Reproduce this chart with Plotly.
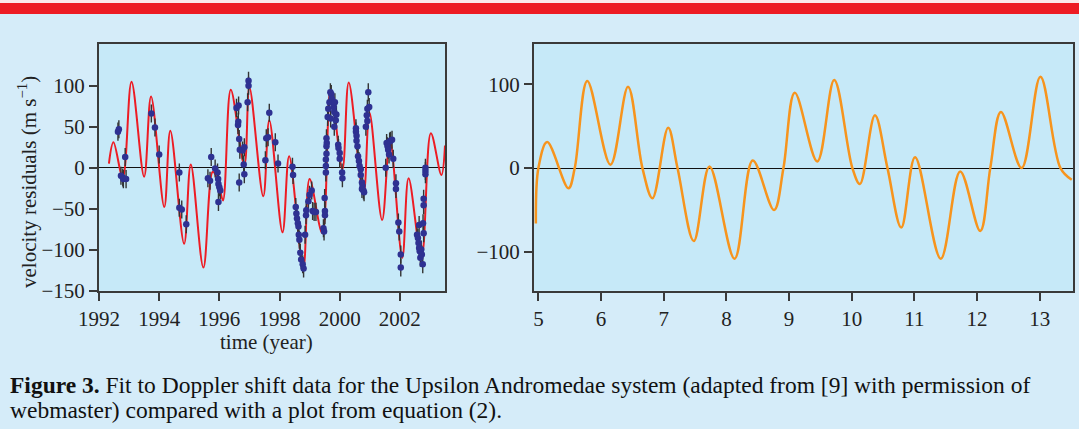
import plotly.graph_objects as go

# ---------------- data ----------------
fit_year = [1992.33, 1992.48, 1992.79, 1993.08, 1993.50, 1993.73, 1994.17, 1994.37,
            1994.83, 1995.05, 1995.47, 1995.78, 1995.95, 1996.12, 1996.38, 1996.83,
            1997.00, 1997.46, 1997.66, 1998.10, 1998.32, 1998.79, 1999.00, 1999.42,
            1999.70, 2000.09, 2000.30, 2000.79, 2000.99, 2001.41, 2001.67, 2002.08,
            2002.29, 2002.72, 2003.03, 2003.38, 2003.50]
fit_v = [5, 31, -12, 105, -11, 87, -48, 45,
         -93, 4, -122, -5, -15, -40, 95, 3,
         98, -35, 58, -79, 14, -122, -14, -80,
         95, -2, 104, -33, 67, -64, 34, -110,
         -13, -109, 42, -9, 27]

obs_year = [1992.63, 1992.66, 1992.73, 1992.79, 1992.81, 1992.90, 1992.87, 1993.74, 1993.86, 1994.00,
            1994.67, 1994.67, 1994.75, 1994.90, 1995.62, 1995.69, 1995.73, 1995.86, 1995.94, 1995.96,
            1995.97, 1996.00, 1996.03, 1995.97, 1996.57, 1996.64, 1996.62, 1996.63, 1996.66, 1996.66,
            1996.68, 1996.77, 1996.83, 1996.81, 1996.83, 1996.94, 1996.97, 1996.97, 1997.53, 1997.56,
            1997.62, 1997.66, 1997.86, 1997.95, 1998.43, 1998.45, 1998.54, 1998.56, 1998.58, 1998.61,
            1998.63, 1998.64, 1998.66, 1998.69, 1998.72, 1998.77, 1998.80, 1998.85, 1998.88, 1998.89,
            1998.96, 1999.00, 1999.07, 1999.10, 1999.15, 1999.21, 1999.46, 1999.48, 1999.51, 1999.51,
            1999.50, 1999.54, 1999.54, 1999.54, 1999.56, 1999.56, 1999.57, 1999.56, 1999.60, 1999.62,
            1999.66, 1999.69, 1999.72, 1999.74, 1999.76, 1999.80, 1999.82, 1999.84, 1999.87, 1999.89,
            1999.70, 1999.82, 1999.95, 1999.96, 2000.00, 2000.00, 2000.08, 2000.09, 2000.54, 2000.54,
            2000.56, 2000.56, 2000.59, 2000.61, 2000.64, 2000.66, 2000.70, 2000.70, 2000.74, 2000.76,
            2000.79, 2000.74, 2000.81, 2000.87, 2000.90, 2000.92, 2000.95, 2000.92, 2000.98, 2001.53,
            2001.56, 2001.59, 2001.61, 2001.64, 2001.66, 2001.69, 2001.74, 2001.78, 2001.87, 2001.87,
            2001.95, 2001.98, 2002.03, 2002.03, 2002.57, 2002.60, 2002.62, 2002.64, 2002.66, 2002.68,
            2002.64, 2002.71, 2002.73, 2002.76, 2002.77, 2002.79, 2002.79, 2002.79, 2002.85, 2002.85,
            2002.85]
obs_v = [44, 47, -10, -12, -14, -14, 13, 66, 49, 16,
         -6, -49, -51, -69, -13, -16, 13, -1, -6, -14,
         -20, -24, -28, -42, 73, 76, 52, 56, 35, -18,
         22, 21, 25, 4, -8, 80, 100, 106, 9, 36,
         37, 67, 31, 5, 1, -9, -48, -56, -62, -68,
         -72, -82, -88, -104, -112, -118, -123, -82, -58, -52,
         -41, -33, -28, -53, -54, -54, -74, -78, -58, -53,
         -37, -6, 2, 10, 17, 26, 30, 36, 62, 72,
         80, 92, 90, 84, 80, 74, 68, 80, 58, 65,
         60, 50, 28, 24, 18, 11, -6, -13, 48, 44,
         39, 33, 26, 14, 8, 2, -2, -9, -18, -22,
         -28, -26, -30, 50, 64, 72, 92, 57, 74, 0,
         30, 26, 22, 16, 32, 33, 34, 11, -19, -26,
         -67, -78, -106, -122, -82, -86, -92, -98, -102, -110,
         -70, -100, -106, -118, -68, -80, -46, -38, 0, -4,
         -8]
obs_err = 11

eq_t = [4.96, 5.00, 5.14, 5.48, 5.58, 5.78, 6.15, 6.43, 6.66, 6.82,
        7.07, 7.22, 7.48, 7.73, 8.13, 8.42, 8.76, 8.91, 9.09, 9.45,
        9.72, 10.01, 10.13, 10.37, 10.57, 10.79, 11.01, 11.42, 11.73, 12.05,
        12.21, 12.38, 12.71, 13.01, 13.33, 13.51]
eq_v = [-66, 0, 31, -24, 0, 104, 4, 97, 0, -36,
        48, 0, -87, 2, -108, 9, -50, 0, 90, 8,
        105, 0, -19, 63, 0, -71, 13, -108, -4, -75,
        0, 67, 0, 109, 0, -14]

left_xticks = [1992, 1994, 1996, 1998, 2000, 2002]
left_yticks = [-150, -100, -50, 0, 50, 100]
right_xticks = [5, 6, 7, 8, 9, 10, 11, 12, 13]
right_yticks = [-100, 0, 100]

caption_1 = "<b>Figure 3.</b> Fit to Doppler shift data for the Upsilon Andromedae system (adapted from [9] with permission of"
caption_2 = "webmaster) compared with a plot from equation (2)."

# ---------------- figure ----------------
W, H = 1079, 429
PAGE = "#d5ecf9"
PANEL = "#c6e9f8"
FRAME = "#3a3a3a"
FONT = "Liberation Serif"

fig = go.Figure()

fig.add_trace(go.Scatter(x=fit_year, y=fit_v, mode="lines",
                         line=dict(color="#ed1c24", width=2, shape="spline", smoothing=1.0),
                         xaxis="x", yaxis="y", hoverinfo="skip"))
fig.add_trace(go.Scatter(x=obs_year, y=obs_v, mode="markers",
                         marker=dict(color="#2e3192", size=6.5),
                         error_y=dict(type="constant", value=obs_err, color="#333333",
                                      thickness=1.4, width=0),
                         xaxis="x", yaxis="y"))
fig.add_trace(go.Scatter(x=eq_t, y=eq_v, mode="lines",
                         line=dict(color="#f7941d", width=2.5, shape="spline", smoothing=1.0),
                         xaxis="x2", yaxis="y2", hoverinfo="skip"))

def px_x(p):
    return p / W

def px_y(p):
    return 1 - p / H

ydom = [px_y(290.5), px_y(44)]
axis_common = dict(showline=True, mirror=True, linecolor=FRAME, linewidth=2,
                   ticks="outside", ticklen=8, tickwidth=1.5, tickcolor=FRAME,
                   showgrid=False, automargin=False,
                   tickfont=dict(family=FONT, size=21, color="#222222"))

fig.update_layout(
    width=W, height=H,
    margin=dict(l=0, r=0, t=0, b=0, pad=0, autoexpand=False),
    paper_bgcolor=PAGE, plot_bgcolor=PANEL,
    showlegend=False,
    xaxis=dict(domain=[px_x(99), px_x(445)], range=[1992, 2003.5],
               tickvals=left_xticks, zeroline=False, anchor="y", **axis_common),
    yaxis=dict(domain=ydom, range=[-150, 151], tickvals=left_yticks,
               zeroline=True, zerolinecolor="#111111", zerolinewidth=1.2,
               anchor="x", **axis_common),
    xaxis2=dict(domain=[px_x(534), px_x(1073)], range=[4.93, 13.53],
                tickvals=right_xticks, zeroline=False, anchor="y2", **axis_common),
    yaxis2=dict(domain=ydom, range=[-146, 148], tickvals=right_yticks,
                zeroline=True, zerolinecolor="#111111", zerolinewidth=1.2,
                anchor="x2", **axis_common),
)

# red band at the top
fig.add_shape(type="rect", xref="paper", yref="paper",
              x0=0, x1=1, y0=px_y(14), y1=px_y(3),
              fillcolor="#ed1c24", line=dict(width=0), layer="above")
fig.add_shape(type="rect", xref="paper", yref="paper",
              x0=0, x1=1, y0=px_y(3), y1=1,
              fillcolor="#fbe9ea", line=dict(width=0), layer="above")

fig.add_annotation(text="time (year)", xref="paper", yref="paper",
                   x=px_x(266), y=px_y(342), xanchor="center", yanchor="middle",
                   showarrow=False, font=dict(family=FONT, size=21, color="#222222"))
fig.add_annotation(text="velocity residuals (m s<sup>\u22121</sup>)", xref="paper", yref="paper",
                   x=px_x(27), y=px_y(182), xanchor="center", yanchor="middle",
                   textangle=-90, showarrow=False,
                   font=dict(family=FONT, size=21, color="#222222"))
fig.add_annotation(text=caption_1, xref="paper", yref="paper",
                   x=px_x(8), y=px_y(385), xanchor="left", yanchor="middle",
                   showarrow=False, font=dict(family=FONT, size=23.5, color="#111111"))
fig.add_annotation(text=caption_2, xref="paper", yref="paper",
                   x=px_x(8), y=px_y(410), xanchor="left", yanchor="middle",
                   showarrow=False, font=dict(family=FONT, size=23.5, color="#111111"))

fig.write_html("out.html")
